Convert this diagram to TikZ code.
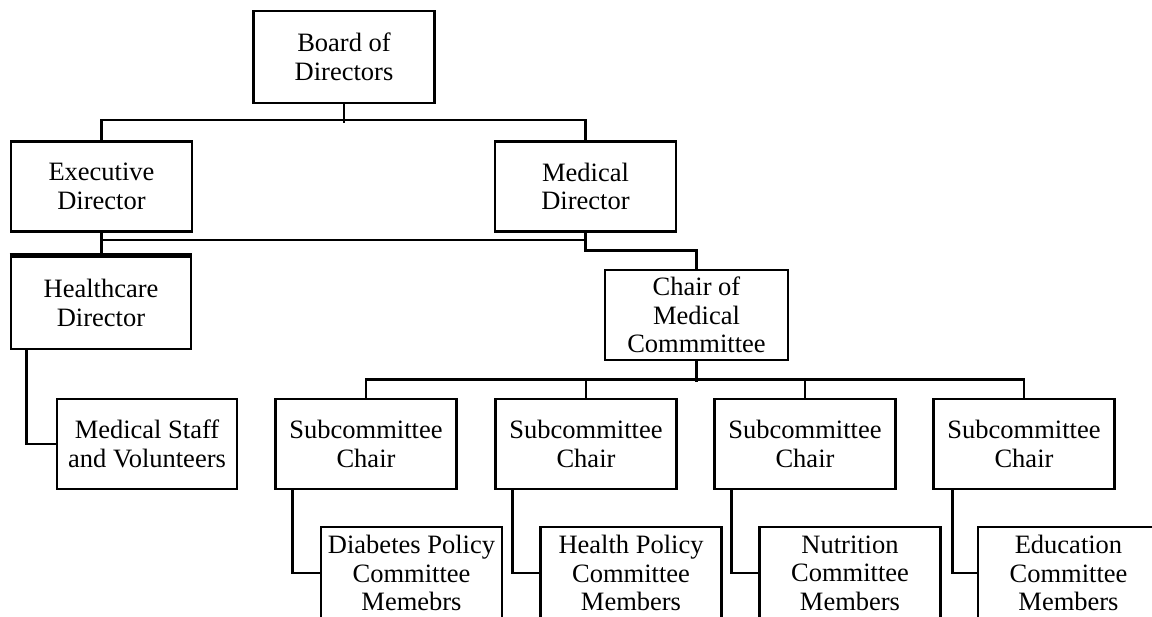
\documentclass[tikz,border=0pt]{standalone}
\usepackage{fontspec}
\setmainfont{Liberation Serif}
\begin{document}
\begin{tikzpicture}[x=1pt,y=-1pt,
  box/.style={draw, line width=2.6pt, align=center, inner sep=0pt,
    font=\fontsize{26.5}{28.5}\selectfont, minimum width=181pt, minimum height=90pt},
  link/.style={line width=2.6pt}]
\useasboundingbox (0,0) rectangle (1152,617);
\node[box, minimum height=92pt] (board) at (344,57) {Board of\\Directors};
\node[box] (exec) at (101.5,186.5) {Executive\\Director};
\node[box] (med) at (585.5,186.5) {Medical\\Director};
\node[box, minimum width=180pt, minimum height=92pt] (health) at (101,303) {Healthcare\\Director};
\node[box, minimum width=183pt] (chair) at (696.5,315) {Chair of\\Medical\\Commmittee};
\node[box, minimum width=180pt] (staff) at (147,444) {Medical Staff\\and Volunteers};
\node[box] (sub1) at (366,444) {Subcommittee\\Chair};
\node[box] (sub2) at (586,444) {Subcommittee\\Chair};
\node[box] (sub3) at (805,444) {Subcommittee\\Chair};
\node[box] (sub4) at (1024,444) {Subcommittee\\Chair};
\node[box, minimum height=92pt] (dia) at (411.5,573) {Diabetes Policy\\Committee\\Memebrs};
\node[box, minimum height=92pt] (hp) at (631,573) {Health Policy\\Committee\\Members};
\node[box, minimum height=92pt] (nut) at (850,573) {Nutrition\\Committee\\Members};
\node[box, minimum height=92pt] (edu) at (1068.5,573) {Education\\Committee\\Members};
% thicker top edge of Healthcare Director
\draw[line width=4pt] ([yshift=0.8pt]health.north west) -- ([yshift=0.8pt]health.north east);
% connectors
\draw[link] (board.south) -- ++(0,19);
\draw[link] (exec.north) -- ++(0,-20) -| (med.north);
\draw[link] (exec.south) -- (exec.south |- health.north);
\coordinate (bus2) at (0,240);
\draw[link] (exec.south |- bus2) -- (med.south |- bus2);
\draw[link] (med.south) -- ++(0,18) -| (chair.north);
\draw[link] ([xshift=17pt]health.south west) |- (staff.west);
\draw[link] (chair.south) -- ++(0,21);
\draw[link] (sub1.north) -- ++(0,-18) -| (sub4.north);
\draw[link] (sub2.north) -- ++(0,-18);
\draw[link] (sub3.north) -- ++(0,-18);
\draw[link] ([xshift=18pt]sub1.south west) |- (dia.west);
\draw[link] ([xshift=18pt]sub2.south west) |- (hp.west);
\draw[link] ([xshift=18pt]sub3.south west) |- (nut.west);
\draw[link] ([xshift=20pt]sub4.south west) |- (edu.west);
\end{tikzpicture}
\end{document}
